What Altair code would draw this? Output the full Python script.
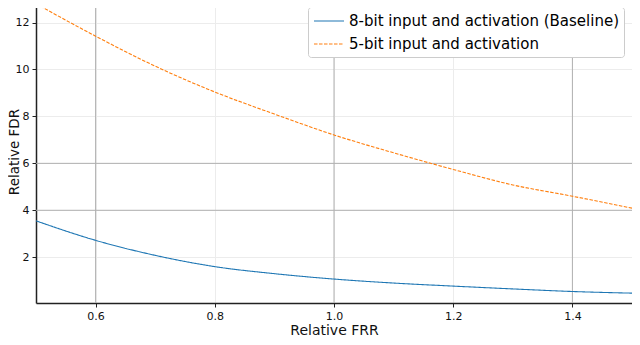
import altair as alt
import pandas as pd

# Data
frr = [0.5, 0.6, 0.7, 0.8, 0.9, 1.0, 1.1, 1.2, 1.3, 1.4, 1.5]
fdr_8bit = [3.55, 2.72, 2.08, 1.6, 1.3, 1.07, 0.9, 0.77, 0.65, 0.54, 0.47]
fdr_5bit = [12.8, 11.42, 10.14, 9.04, 8.1, 7.21, 6.45, 5.74, 5.08, 4.6, 4.09]

series_names = ["8-bit input and activation (Baseline)", "5-bit input and activation"]
series_colors = ["#1f77b4", "#ff7f0e"]

x_ticks = [0.6, 0.8, 1.0, 1.2, 1.4]
y_ticks = [2, 4, 6, 8, 10, 12]
x_major_grid = [0.6, 1.0, 1.4]
y_major_grid = [4, 6]

rows = []
for x, a, b in zip(frr, fdr_8bit, fdr_5bit):
    rows.append({"frr": x, "fdr": a, "series": series_names[0]})
    rows.append({"frr": x, "fdr": b, "series": series_names[1]})
df = pd.DataFrame(rows)

FONT = "DejaVu Sans"
xscale = alt.Scale(domain=[0.5, 1.5], nice=False, zero=False)
yscale = alt.Scale(domain=[0.05, 12.96], nice=False, zero=False)

vgrid = alt.Chart(pd.DataFrame({"v": x_major_grid})).mark_rule(
    color="#b0b0b0", strokeWidth=1
).encode(x=alt.X("v:Q", scale=xscale))
hgrid = alt.Chart(pd.DataFrame({"v": y_major_grid})).mark_rule(
    color="#b0b0b0", strokeWidth=1
).encode(y=alt.Y("v:Q", scale=yscale))

lines = alt.Chart(df).mark_line(strokeWidth=1.1, interpolate="monotone").encode(
    x=alt.X(
        "frr:Q",
        scale=xscale,
        title="Relative FRR",
        axis=alt.Axis(values=x_ticks, format=".1f"),
    ),
    y=alt.Y(
        "fdr:Q",
        scale=yscale,
        title="Relative FDR",
        axis=alt.Axis(values=y_ticks, format="d", titleX=-22, titleBaseline="middle",
                      titleFontSize=13.5),
    ),
    color=alt.Color(
        "series:N",
        scale=alt.Scale(domain=series_names, range=series_colors),
        sort=series_names,
        legend=alt.Legend(
            title=None,
            orient="none",
            legendX=272,
            legendY=7,
            symbolType="M-1,0H2.75",
            symbolSize=256,
            symbolStrokeWidth=1.1,
            labelFont=FONT,
            labelFontSize=15,
            labelColor="#000000",
            labelLimit=0,
            fillColor="white",
            strokeColor="#cccccc",
            cornerRadius=3,
            padding=5,
            rowPadding=6,
            labelOffset=18,
        ),
    ),
    strokeDash=alt.StrokeDash(
        "series:N",
        scale=alt.Scale(domain=series_names, range=[[1, 0], [3.5, 1.5]]),
        sort=series_names,
        legend=None,
    ),
)

chart = (
    alt.layer(vgrid, hgrid, lines)
    .properties(
        width=596,
        height=303,
        padding={"left": 28, "top": -8, "right": 0, "bottom": 34},
        autosize=alt.AutoSizeParams(type="none"),
    )
    .configure_view(stroke=None)
    .configure_axis(
        grid=True,
        gridColor="#ececec",
        gridWidth=1,
        domainColor="#222222",
        domainWidth=1.5,
        tickColor="#222222",
        tickSize=4,
        labelFont=FONT,
        labelFontSize=11,
        labelColor="#111111",
        titleFont=FONT,
        titleFontSize=14,
        titleFontWeight="normal",
        titleColor="#111111",
    )
    .configure_axisY(labelPadding=3, titlePadding=4)
    .configure_axisX(labelPadding=3, titlePadding=2)
)

chart.save("out.html", embed_options={"renderer": "svg", "actions": False})
